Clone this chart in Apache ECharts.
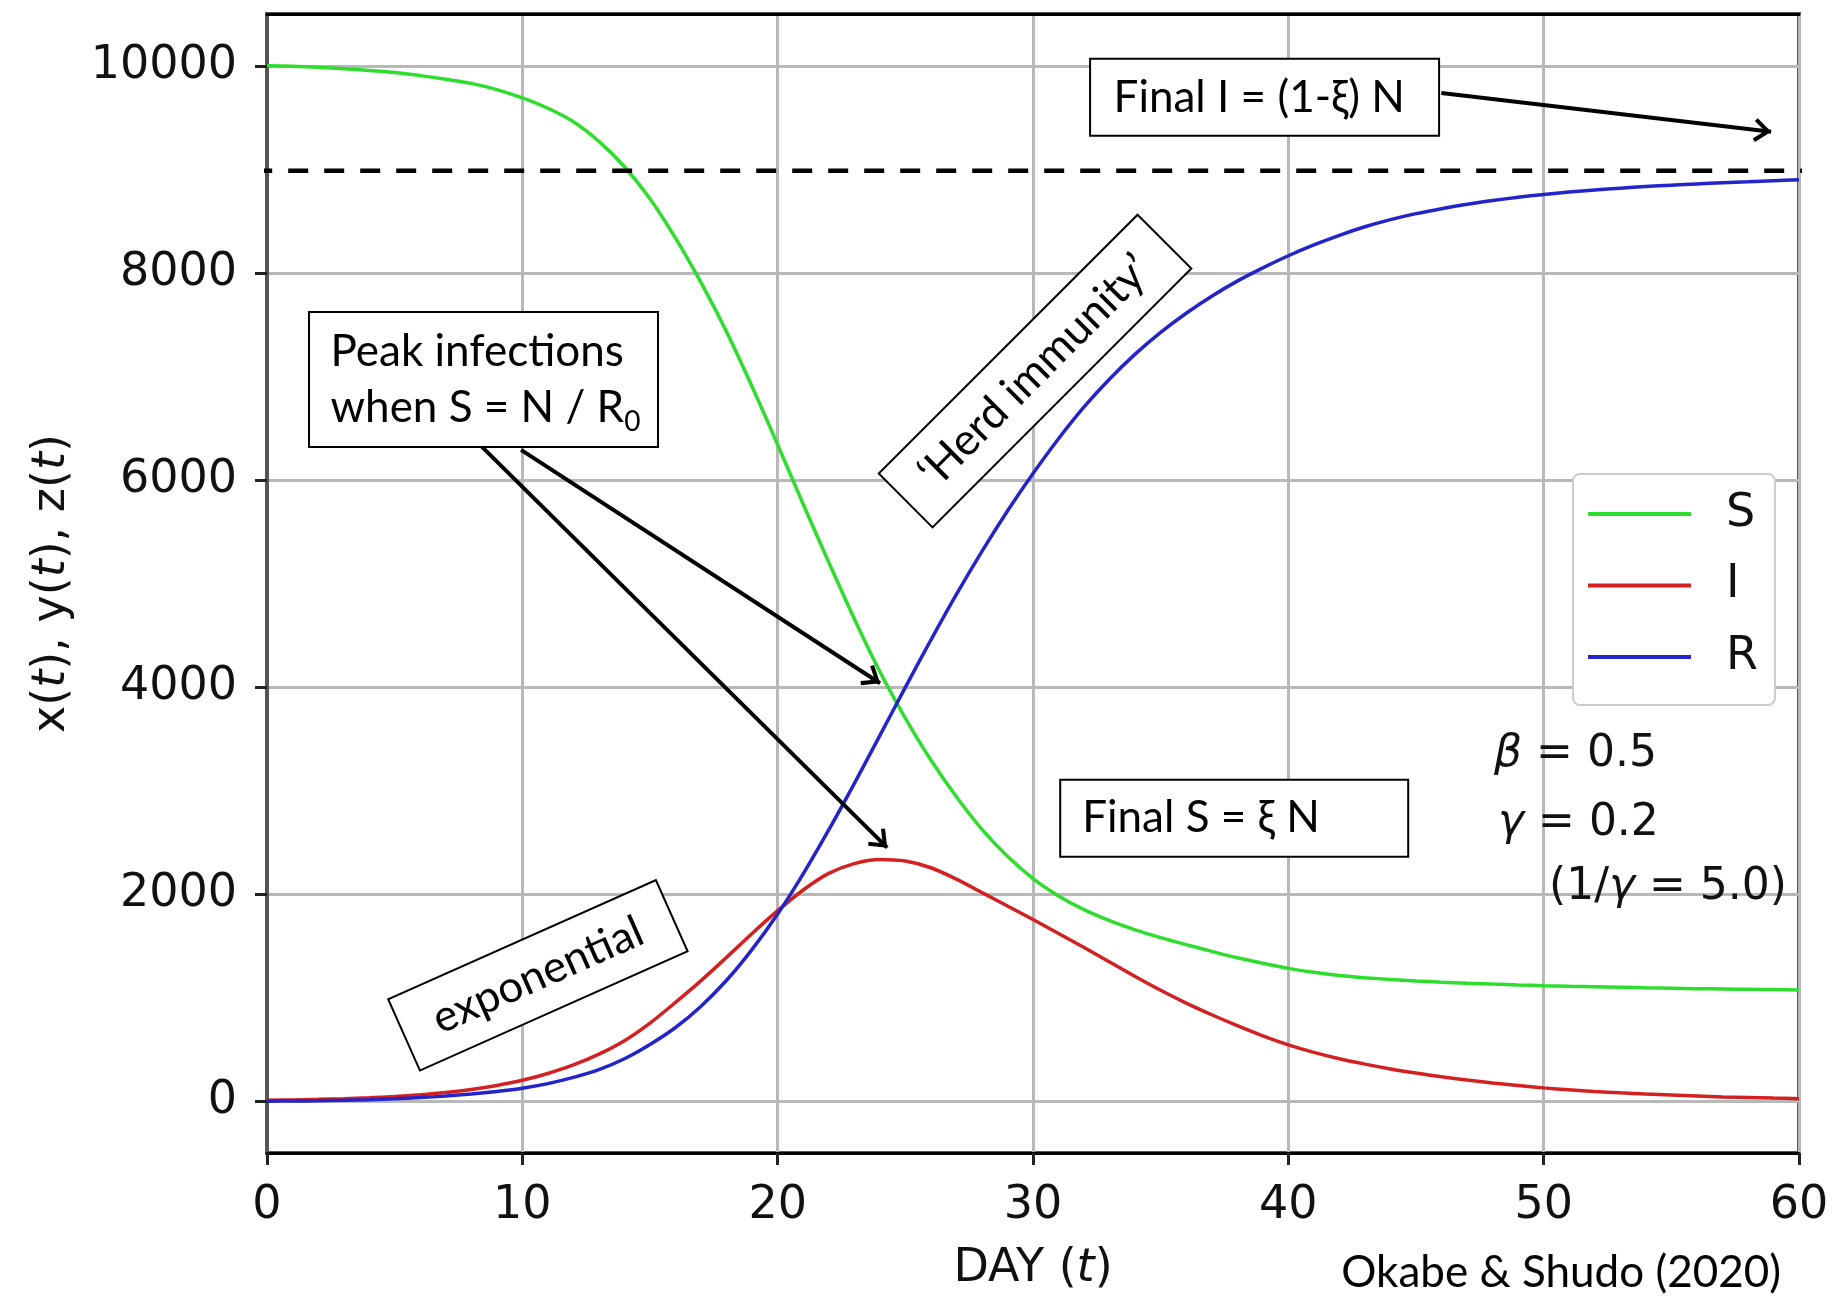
<!DOCTYPE html>
<html>
<head>
<meta charset="utf-8">
<title>SIR model</title>
<script src="https://cdn.jsdelivr.net/npm/echarts@6.0.0/dist/echarts.min.js"></script>
<style>
html, body { margin: 0; padding: 0; background: #fff; }
#chart { width: 1845px; height: 1297px; }
</style>
</head>
<body>
<div id="chart"></div>
<script>
// values, one per day
var days = [0, 1, 2, 3, 4, 5, 6, 7, 8, 9, 10, 11, 12, 13, 14, 15, 16, 17, 18, 19, 20,
    21, 22, 23, 24, 25, 26, 27, 28, 29, 30, 31, 32, 33, 34, 35, 36, 37, 38, 39, 40,
    41, 42, 43, 44, 45, 46, 47, 48, 49, 50, 51, 52, 53, 54, 55, 56, 57, 58, 59, 60];
var sVals = [10000, 9995, 9985, 9972, 9955, 9935, 9905, 9870, 9830, 9770, 9690,
    9590, 9460, 9270, 9025, 8715, 8335, 7905, 7430, 6900, 6340,
    5765, 5205, 4660, 4150, 3700, 3295, 2940, 2625, 2365, 2150,
    1983, 1850, 1743, 1655, 1580, 1512, 1447, 1385, 1332, 1283,
    1245, 1215, 1193, 1176, 1162, 1150, 1140, 1131, 1123, 1116,
    1110, 1105, 1100, 1095, 1091, 1087, 1084, 1081, 1078, 1075];
var iVals = [10, 13, 18, 24, 33, 45, 62, 84, 113, 152, 202,
    268, 350, 455, 585, 755, 955, 1165, 1390, 1620, 1840,
    2040, 2200, 2295, 2335, 2320, 2255, 2145, 2015, 1885, 1755,
    1620, 1485, 1345, 1205, 1072, 948, 835, 730, 632, 545,
    472, 410, 358, 312, 272, 236, 204, 176, 151, 129,
    110, 94, 81, 69, 59, 50, 42, 36, 30, 25];
var rVals = [0, 2, 5, 9, 15, 23, 35, 50, 70, 95, 126,
    170, 230, 305, 410, 548, 712, 918, 1168, 1467, 1808,
    2196, 2620, 3068, 3531, 3997, 4454, 4894, 5310, 5700, 6062,
    6398, 6705, 6975, 7215, 7425, 7610, 7775, 7920, 8048, 8165,
    8270, 8363, 8445, 8514, 8572, 8620, 8662, 8698, 8730, 8757,
    8780, 8800, 8818, 8833, 8847, 8859, 8870, 8880, 8890, 8900];
var popTicks = [0, 2000, 4000, 6000, 8000, 10000];
var finalLevel = 8985;
var finalSpan = [-3.4, 62.5];
// arrows: [from, to] in (day, people)
var arrowLines = [
    [[45.99, 9738], [58.91, 9362]],
    [[9.95, 6291], [24.01, 4037]],
    [[8.42, 6320], [24.29, 2449]],
    [[39.09, 2362], [60.16, 1226]]
];

var tickFont = 'DejaVu Sans';
var noteFont = 'Lato';
var chevron = 'path://M10,-15L10.01,-15L10,-15Z M10,0L20,13L17.4,15.2L10,5.6L2.6,15.2L0,13Z';
var legendBar = 'path://M0,0L100,0L100,4L0,4Z';

function pairs(vals) {
    return days.map(function (d, k) { return [d, vals[k]]; });
}

function curve(name, vals, color) {
    return {
        name: name,
        type: 'line',
        data: pairs(vals),
        symbol: 'none',
        smooth: 0.3,
        lineStyle: { color: color, width: 3.5 },
        itemStyle: { color: color },
        silent: true,
        z: 3
    };
}

var chart = echarts.init(document.getElementById('chart'));
var option = {
    animation: false,
    backgroundColor: '#fff',
    grid: {
        left: 267, right: 46, top: 14, bottom: 141,
        show: true, borderColor: '#555', borderWidth: 4
    },
    legend: {
        data: ['S', 'I', 'R'],
        orient: 'vertical',
        left: 1573, top: 474,
        icon: legendBar,
        itemWidth: 103, itemHeight: 30, itemGap: 25.5,
        padding: [17, 17, 25, 15],
        backgroundColor: '#fff',
        borderColor: '#cccccc', borderWidth: 2, borderRadius: 7,
        textStyle: { fontFamily: tickFont, fontSize: 46, color: '#111', padding: [0, 0, 0, 30] },
        selectedMode: false
    },
    xAxis: [{
        type: 'value', min: 0, max: 60, interval: 10,
        name: '{n|DAY (}{i|t}{n|)}',
        nameLocation: 'middle', nameGap: 93,
        nameTextStyle: {
            fontFamily: tickFont, fontSize: 46, color: '#111',
            rich: {
                n: { fontFamily: tickFont, fontSize: 46, color: '#111' },
                i: { fontFamily: tickFont, fontSize: 46, color: '#111', fontStyle: 'italic' }
            }
        },
        axisLine: { onZero: false, lineStyle: { color: '#000', width: 3 } },
        axisTick: { length: 12, lineStyle: { color: '#222', width: 3 } },
        axisLabel: { fontFamily: tickFont, fontSize: 46, color: '#111', margin: 30 },
        splitLine: { lineStyle: { color: '#b8b8b8', width: 3 } }
    }, {
        type: 'value', min: 0, max: 60, position: 'top',
        axisLine: { onZero: false, lineStyle: { color: '#000', width: 3 } },
        axisTick: { show: false },
        axisLabel: { show: false },
        splitLine: { show: false }
    }],
    yAxis: {
        type: 'value', min: -500, max: 10500,
        name: '{n|x(}{i|t}{n|), y(}{i|t}{n|), z(}{i|t}{n|)}',
        nameLocation: 'middle', nameRotate: 90, nameGap: 192,
        nameTextStyle: {
            fontFamily: tickFont, fontSize: 46, color: '#111',
            rich: {
                n: { fontFamily: tickFont, fontSize: 46, color: '#111' },
                i: { fontFamily: tickFont, fontSize: 46, color: '#111', fontStyle: 'italic' }
            }
        },
        axisLine: { show: true, onZero: false, lineStyle: { color: '#555', width: 4 } },
        axisTick: { show: true, length: 12, customValues: popTicks, lineStyle: { color: '#222', width: 3 } },
        axisLabel: {
            fontFamily: tickFont, fontSize: 46, color: '#111', margin: 30, customValues: popTicks,
            formatter: function (v) { return String(v); }
        },
        splitLine: { show: true, lineStyle: { color: '#b8b8b8', width: 3 } }
    },
    series: [
        curve('S', sVals, '#2edd2e'),
        curve('I', iVals, '#d42020'),
        curve('R', rVals, '#2424cc'),
        {
            name: 'final',
            type: 'line',
            data: [[finalSpan[0], finalLevel], [finalSpan[1], finalLevel]],
            symbol: 'none',
            clip: false,
            silent: true,
            z: 4,
            lineStyle: { color: '#000', width: 4.5, type: [20, 16] },
            markLine: {
                silent: true,
                symbol: ['none', chevron],
                symbolSize: [24, 35],
                label: { show: false },
                lineStyle: { color: '#000', width: 4, type: 'solid' },
                data: arrowLines.map(function (a) {
                    return [{ coord: a[0] }, { coord: a[1] }];
                })
            }
        }
    ]
};
chart.setOption(option);

function px(t, v) {
    return chart.convertToPixel({ xAxisIndex: 0, yAxisIndex: 0 }, [t, v]);
}

var noteRich = {
    a: { fontFamily: noteFont, fontSize: 44, lineHeight: 56, fill: '#000' },
    sub: { fontFamily: noteFont, fontSize: 28, lineHeight: 56, verticalAlign: 'bottom', fill: '#000' }
};

var notes = [
    { at: [39.07, 9695], w: 349, h: 77, angle: 0, tx: -151, align: 'left', text: '{a|Final I = (1-ξ) N}' },
    { at: [8.48, 6970], w: 349, h: 135, angle: 0, tx: -153, align: 'left', text: '{a|Peak infections}\n{a|when S = N / R}{sub|0}' },
    { at: [30.08, 7052], w: 366, h: 76, angle: 45, tx: 0, align: 'center', text: '{a|‘Herd immunity’}' },
    { at: [10.61, 1216], w: 293, h: 78, angle: 24, tx: 0, align: 'center', text: '{a|exponential}' },
    { at: [37.88, 2733], w: 348, h: 77, angle: 0, tx: -152, align: 'left', text: '{a|Final S = ξ N}' }
];

var graphics = notes.map(function (n) {
    var c = px(n.at[0], n.at[1]);
    return {
        type: 'group', x: c[0], y: c[1], rotation: n.angle * Math.PI / 180, z: 30,
        children: [{
            type: 'rect',
            shape: { x: -n.w / 2, y: -n.h / 2, width: n.w, height: n.h },
            style: { fill: '#fff', stroke: '#000', lineWidth: 2 }
        }, {
            type: 'text', x: n.tx, y: 0,
            style: { text: n.text, rich: noteRich, align: n.align, verticalAlign: 'middle' }
        }]
    };
});

var paramRich = {
    n: { fontFamily: tickFont, fontSize: 44, fill: '#111' },
    i: { fontFamily: tickFont, fontSize: 44, fill: '#111', fontStyle: 'italic' }
};
graphics.push(
    { type: 'text', x: 1494, y: 755, z: 30, style: { text: '{i|β}{n| = 0.5}', rich: paramRich, align: 'left', verticalAlign: 'middle' } },
    { type: 'text', x: 1498, y: 824, z: 30, style: { text: '{i|γ}{n| = 0.2}', rich: paramRich, align: 'left', verticalAlign: 'middle' } },
    { type: 'text', x: 1787, y: 888, z: 30, style: { text: '{n|(1/}{i|γ}{n| = 5.0)}', rich: paramRich, align: 'right', verticalAlign: 'middle' } },
    { type: 'text', x: 1781, y: 1273, z: 30, style: { text: 'Okabe & Shudo (2020)', fontFamily: noteFont, fontSize: 44, fill: '#000', align: 'right', verticalAlign: 'middle' } }
);

chart.setOption({ graphic: graphics });
</script>
</body>
</html>
